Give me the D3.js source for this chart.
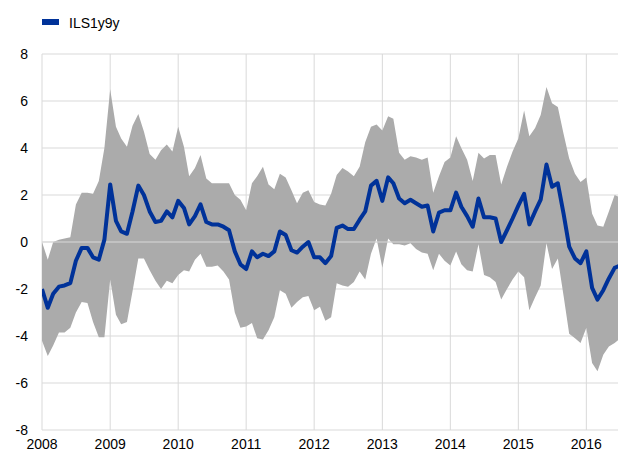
<!DOCTYPE html>
<html>
<head>
<meta charset="utf-8">
<script src="https://cdn.jsdelivr.net/npm/d3@7"></script>
<style>
  body { margin: 0; background: #fff; }
  text { font-family: "Liberation Sans", Arial, sans-serif; fill: #000; }
</style>
</head>
<body>
<svg width="618" height="455"></svg>
<script>
// monthly observations, Jan 2008 - Jul 2016
const months = d3.timeMonth.range(new Date(2008, 0, 1), new Date(2016, 7, 1));

const ils1y9y = [
  -2.0, -2.8, -2.2, -1.9, -1.85, -1.75, -0.8, -0.25, -0.25, -0.65, -0.75, 0.1,
  2.45, 0.9, 0.45, 0.35, 1.3, 2.4, 2.0, 1.3, 0.85, 0.9, 1.3, 1.05,
  1.75, 1.45, 0.75, 1.1, 1.6, 0.85, 0.75, 0.75, 0.65, 0.5, -0.4, -0.95,
  -1.15, -0.4, -0.65, -0.5, -0.6, -0.4, 0.45, 0.3, -0.35, -0.45, -0.2, 0.0,
  -0.65, -0.65, -0.9, -0.6, 0.6, 0.7, 0.55, 0.55, 0.95, 1.3, 2.4, 2.6,
  1.75, 2.75, 2.5, 1.85, 1.65, 1.8, 1.65, 1.5, 1.55, 0.45, 1.25, 1.35,
  1.35, 2.1, 1.5, 1.1, 0.65, 1.85, 1.05, 1.05, 1.0, 0.0, 0.5, 1.0,
  1.55, 2.05, 0.75, 1.3, 1.8, 3.3, 2.35, 2.5, 1.2, -0.2, -0.7, -0.9,
  -0.4, -1.95, -2.45, -2.05, -1.55, -1.1, -1.0
];

const bandUpper = [
  0.0, -0.75, 0.0, 0.1, 0.15, 0.2, 1.6, 2.1, 2.1, 2.05, 2.6, 4.0,
  6.5, 4.9, 4.4, 4.05, 4.95, 5.45, 4.7, 3.75, 3.5, 3.9, 4.15, 3.85,
  4.9, 4.05, 2.8, 3.15, 3.7, 2.7, 2.5, 2.5, 2.5, 2.5, 2.0, 1.8,
  1.35, 2.5, 2.8, 3.2, 2.45, 2.25, 2.9, 2.75, 2.2, 1.65, 2.1, 2.2,
  1.7, 1.6, 1.55, 2.05, 2.85, 3.15, 3.0, 2.8, 3.2, 4.25, 4.9, 5.0,
  4.75, 5.35, 5.25, 3.8, 3.5, 3.65, 3.6, 3.5, 3.6, 2.1, 2.8, 3.4,
  3.6, 4.5, 4.0, 3.5, 2.6, 3.8, 3.55, 3.7, 3.7, 2.45, 3.2, 3.85,
  4.4, 5.6, 4.5, 4.85, 5.4, 6.6, 5.9, 5.75, 4.6, 3.55, 2.9, 2.55,
  2.75, 1.2, 0.7, 0.65, 1.3, 2.0, 1.9
];

const bandLower = [
  -4.2, -4.85, -4.4, -3.85, -3.85, -3.65, -3.0, -2.55, -2.6, -3.4, -4.05, -4.05,
  -1.6, -3.1, -3.5, -3.4, -2.1, -0.7, -0.7, -1.2, -1.65, -2.0, -1.65, -1.75,
  -1.4, -1.2, -1.25, -0.75, -0.5, -1.05, -1.05, -1.0, -1.25, -1.6, -3.0, -3.65,
  -3.6, -3.45, -4.1, -4.15, -3.75, -3.2, -2.05, -2.2, -2.8, -2.55, -2.35, -2.3,
  -2.9, -2.75, -3.35, -3.2, -1.75, -1.85, -1.9, -1.7, -1.25, -1.6, -0.5, 0.15,
  -1.1, 0.15, -0.1, -0.1, -0.15, -0.05, -0.3, -0.45, -0.5, -1.2, -0.5, -0.8,
  -1.0, -0.4, -0.95, -1.2, -1.25, -0.1, -1.4, -1.5, -1.7, -2.45, -2.0, -1.6,
  -1.25, -1.5, -2.9, -2.35, -1.85, -0.05, -1.15, -0.7, -2.3, -3.9, -4.1, -4.3,
  -3.65, -5.15, -5.5, -4.8, -4.45, -4.3, -4.1
];

const yTicks = [-8, -6, -4, -2, 0, 2, 4, 6, 8];
const yearTicks = d3.range(2008, 2017).map(yr => new Date(yr, 0, 1));
const seriesName = "ILS1y9y";

const rows = months.map((d, i) => ({
  date: d, value: ils1y9y[i], hi: bandUpper[i], lo: bandLower[i]
}));

const plotLeft = 42, plotRight = 618, plotTop = 54, plotBottom = 430;

const svg = d3.select("svg");

const x = d3.scaleTime()
            .domain([new Date(2008, 0, 1), new Date(2016, 5, 19)])
            .range([plotLeft, plotRight]);

const y = d3.scaleLinear()
            .domain([-8, 8])
            .range([plotBottom, plotTop]);

svg.append("defs").append("clipPath").attr("id", "plot")
   .append("rect")
   .attr("x", plotLeft).attr("y", 0)
   .attr("width", plotRight - plotLeft).attr("height", 455);

// grid lines
svg.append("g")
   .selectAll("line")
   .data(yTicks)
   .enter().append("line")
   .attr("x1", plotLeft).attr("x2", plotRight)
   .attr("y1", d => y(d)).attr("y2", d => y(d))
   .attr("stroke", "#d9d9d9");

svg.append("g")
   .selectAll("line")
   .data(yearTicks)
   .enter().append("line")
   .attr("x1", d => x(d)).attr("x2", d => x(d))
   .attr("y1", plotTop).attr("y2", plotBottom)
   .attr("stroke", "#d9d9d9");

// uncertainty band
svg.append("path")
   .datum(rows)
   .attr("clip-path", "url(#plot)")
   .attr("fill", "#ababab")
   .attr("d", d3.area()
                .x(d => x(d.date))
                .y0(d => y(d.lo))
                .y1(d => y(d.hi)));

// zero line sits on top of the band
svg.append("line")
   .attr("x1", plotLeft).attr("x2", plotRight)
   .attr("y1", y(0)).attr("y2", y(0))
   .attr("stroke", "#d9d9d9");

svg.append("path")
   .datum(rows)
   .attr("clip-path", "url(#plot)")
   .attr("fill", "none")
   .attr("stroke", "#003299")
   .attr("stroke-width", 4)
   .attr("stroke-linejoin", "round")
   .attr("d", d3.line()
                .x(d => x(d.date))
                .y(d => y(d.value)));

// axis labels
svg.append("g")
   .selectAll("text")
   .data(yTicks)
   .enter().append("text")
   .attr("x", 28)
   .attr("y", d => y(d) + 5)
   .attr("text-anchor", "end")
   .style("font-size", "14px")
   .text(d => d);

svg.append("g")
   .selectAll("text")
   .data(yearTicks)
   .enter().append("text")
   .attr("x", d => x(d))
   .attr("y", 449)
   .attr("text-anchor", "middle")
   .style("font-size", "14px")
   .text(d => d.getFullYear());

// legend
svg.append("rect")
   .attr("x", 42).attr("y", 19)
   .attr("width", 17).attr("height", 6)
   .attr("fill", "#003299");

svg.append("text")
   .attr("x", 69).attr("y", 28)
   .style("font-size", "14px")
   .text(seriesName);
</script>
</body>
</html>
